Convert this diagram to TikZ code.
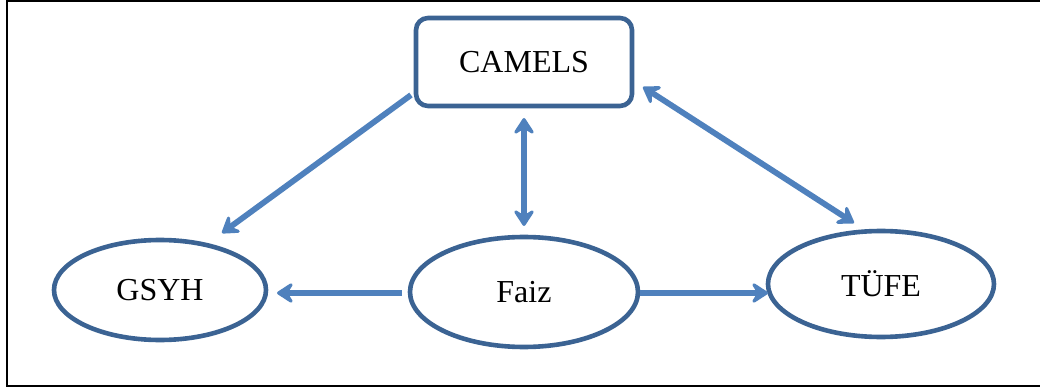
\documentclass[tikz,border=0pt]{standalone}
\usepackage{fontspec}
\setmainfont{Liberation Serif}
\usetikzlibrary{arrows.meta,shapes.geometric}
\definecolor{nodeblue}{HTML}{3B6393}
\definecolor{arrowblue}{HTML}{4F81BD}
\tikzset{
  boxnode/.style={draw=nodeblue, line width=2.3pt, rounded corners=6pt, fill=white, minimum width=108pt, minimum height=44pt, inner sep=0pt, font=\fontsize{16}{19}\selectfont},
  ellnode/.style={ellipse, draw=nodeblue, line width=2.3pt, fill=white, inner sep=0pt, font=\fontsize{16}{19}\selectfont},
  tip/.tip={Stealth[length=10pt,width=13pt,inset=4pt,round]},
  conn/.style={draw=arrowblue, line width=2.9pt, -tip},
  conn2/.style={draw=arrowblue, line width=2.9pt, tip-tip},
}
\begin{document}
\begin{tikzpicture}[x=0.5pt,y=-0.5pt]
\useasboundingbox (0,0) rectangle (1040,390);
\draw[line width=1pt, black] (1041,1.5) -- (7,1.5) -- (7,386) -- (1041,386);
\node[boxnode, minimum width=108pt, minimum height=44pt] (camels) at (524,62) {CAMELS};
\node[ellnode, minimum width=106pt, minimum height=50pt] (gsyh) at (160,290) {GSYH};
\node[ellnode, minimum width=114pt, minimum height=55pt] (faiz) at (524,292) {Faiz};
\node[ellnode, minimum width=113pt, minimum height=53pt] (tufe) at (881,284) {TÜFE};
\coordinate (c1s) at (411,95);
\coordinate (c1e) at (222,233);
\coordinate (c2s) at (524,118);
\coordinate (c2e) at (524,226);
\coordinate (c3s) at (643,87);
\coordinate (c3e) at (854,223);
\coordinate (f1s) at (402,293);
\coordinate (f1e) at (277,293);
\coordinate (f2s) at (640,293);
\coordinate (f2e) at (768,293);
\draw[conn] (c1s) -- (c1e);
\draw[conn2] (c2s) -- (c2e);
\draw[conn2] (c3s) -- (c3e);
\draw[conn] (f1s) -- (f1e);
\draw[conn] (f2s) -- (f2e);
\end{tikzpicture}
\end{document}
